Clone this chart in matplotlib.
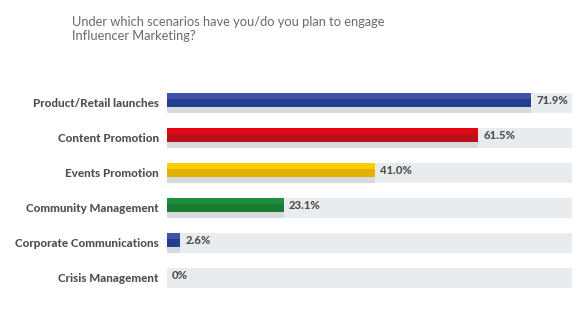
import numpy as np
import matplotlib.pyplot as plt

# survey data
categories = ['Product/Retail launches', 'Content Promotion', 'Events Promotion',
              'Community Management', 'Corporate Communications', 'Crisis Management']
values = [71.9, 61.5, 41.0, 23.1, 2.6, 0.0]
value_labels = ['71.9%', '61.5%', '41.0%', '23.1%', '2.6%', '0%']

# light (top) and dark (bottom) tone for each bar
top_colors = ['#3F52A6', '#E30715', '#FFCE00', '#1E8F3C', '#3F52A6', '#3F52A6']
bottom_colors = ['#213F8E', '#BA101C', '#E0B300', '#187A33', '#213F8E', '#213F8E']

track_max = 80
track_h = 0.571
bar_h = 0.414
light_h = 0.19

plt.rcParams['font.family'] = ['Lato', 'DejaVu Sans']

fig = plt.figure(figsize=(5.8, 3.3), dpi=100)
ax = fig.add_axes([167 / 580, 0.1058, 405 / 580, 0.6364])

y = np.arange(len(categories))
y_top = y - track_h / 2

# background tracks
ax.barh(y, track_max, height=track_h, color='#E9ECEE', linewidth=0)
# shadow strip under the bars
ax.barh(y_top + bar_h, values, height=track_h - bar_h, align='edge',
        color='#D6DADC', linewidth=0)
# bars, dark then light top
ax.barh(y_top, values, height=bar_h, align='edge', color=bottom_colors, linewidth=0)
ax.barh(y_top, values, height=light_h, align='edge', color=top_colors, linewidth=0)

for yi, v, lab in zip(y, values, value_labels):
    ax.text(v + 1.0, yi - 0.06, lab, va='center', ha='left', fontsize=8.2,
            fontweight='black', color='#505050')

ax.set_xlim(0, track_max)
ax.set_ylim(len(categories) - 0.5, -0.5)
ax.set_yticks(y)
ax.set_yticklabels(categories, fontsize=8.4, fontweight='black', color='#505050')
ax.tick_params(axis='y', length=0, pad=6)
ax.set_xticks([])
for s in ax.spines.values():
    s.set_visible(False)

fig.text(72 / 580, 1 - 26 / 330, 'Under which scenarios have you/do you plan to engage',
         fontsize=9.3, color='#6A6A6A', ha='left', va='baseline')
fig.text(72 / 580, 1 - 40.5 / 330, 'Influencer Marketing?',
         fontsize=9.3, color='#6A6A6A', ha='left', va='baseline')

fig.savefig('out.png', dpi=100, facecolor='white')
